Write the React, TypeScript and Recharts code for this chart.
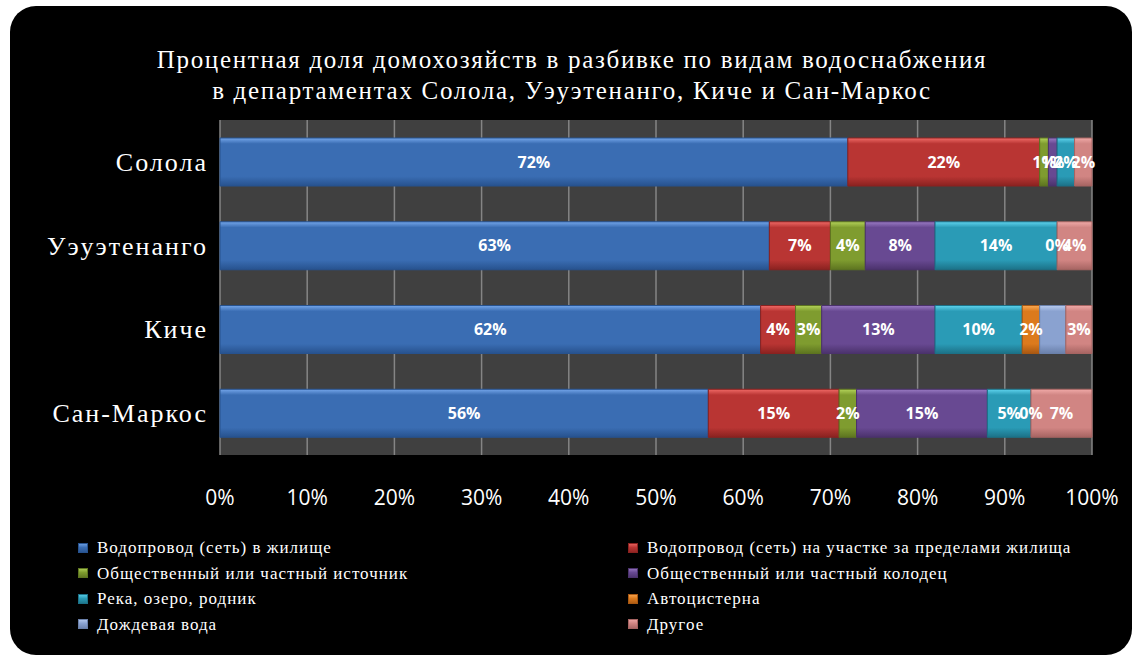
import { Bar, BarChart, CartesianGrid, LabelList, XAxis, YAxis } from "recharts";

const categories = ["Солола", "Уэуэтенанго", "Киче", "Сан-Маркос"];
const pipedInHome = [72, 63, 62, 56];
const pipedOnPlot = [22, 7, 4, 15];
const publicSource = [1, 4, 3, 2];
const publicWell = [1, 8, 13, 15];
const riverLake = [2, 14, 10, 5];
const tankTruck = [null, 0, 2, 0];
const rainWater = [null, null, 3, null];
const otherSource = [2, 4, 3, 7];
const xTicks = [0, 10, 20, 30, 40, 50, 60, 70, 80, 90, 100];

const seriesNames = [
  "Водопровод (сеть) в жилище",
  "Водопровод (сеть) на участке за пределами жилища",
  "Общественный или частный источник",
  "Общественный или частный колодец",
  "Река, озеро, родник",
  "Автоцистерна",
  "Дождевая вода",
  "Другое",
];

// key, light, main, dark
const palette = [
  ["home", "#74a6ea", "#3a6db3", "#27528e"],
  ["plot", "#f06a66", "#b93533", "#8a2220"],
  ["source", "#b4d35a", "#7f9c2f", "#5d7420"],
  ["well", "#9a7bc4", "#684992", "#4b326c"],
  ["river", "#5fd4ee", "#2a9bb6", "#1c7187"],
  ["truck", "#fbab55", "#dc7a1d", "#a85812"],
  ["rain", "#b9ccef", "#8aa2d0", "#6a80aa"],
  ["other", "#f0aaa8", "#d18583", "#a66462"],
];

const seriesValues = [pipedInHome, pipedOnPlot, publicSource, publicWell, riverLake, tankTruck, rainWater, otherSource];

const rows = categories.map((name, i) => {
  const row: Record<string, any> = { name };
  palette.forEach(([key], s) => {
    row[key] = seriesValues[s][i];
  });
  return row;
});

const SERIF = "'Liberation Serif', 'DejaVu Serif', serif";
const SANS = "'Open Sans', 'Noto Sans', sans-serif";

const pct = (v: any) => (v === null || v === undefined ? "" : `${v}%`);

const labelStyle = { fill: "#ffffff", fontSize: 16, fontWeight: 700, fontFamily: SANS };

function CategoryTick({ x, y, payload }: any) {
  return (
    <text x={x} y={y} dy="0.35em" textAnchor="end" fill="#ffffff" fontFamily={SERIF} fontSize={26} letterSpacing={2}>
      {payload.value}
    </text>
  );
}

// label for the last segment; zero-width truck segments get their "0%" at the left edge
function OtherLabel({ x, y, width, height, value, index }: any) {
  const cy = y + height / 2;
  const truck = tankTruck[index];
  return (
    <g>
      {truck === 0 && (
        <text x={x} y={cy} dy="0.35em" textAnchor="middle" {...labelStyle}>
          {pct(truck)}
        </text>
      )}
      <text x={x + width / 2} y={cy} dy="0.35em" textAnchor="middle" {...labelStyle}>
        {pct(value)}
      </text>
    </g>
  );
}

function Swatch({ idx }: { idx: number }) {
  const [, light, main, dark] = palette[idx];
  return (
    <span
      style={{
        display: "inline-block",
        width: 10,
        height: 10,
        marginRight: 9,
        background: `linear-gradient(${light}, ${main} 45%, ${dark})`,
        boxShadow: `inset 0 0 0 1px ${dark}`,
      }}
    />
  );
}

export default function App() {
  return (
    <div style={{ position: "fixed", left: 0, top: 0, width: 1137, height: 659, background: "#ffffff" }}>
      <div
        style={{
          position: "absolute",
          left: 10,
          top: 6,
          width: 1122,
          height: 649,
          background: "#000000",
          borderRadius: 26,
        }}
      />
      <div
        style={{
          position: "absolute",
          left: 0,
          top: 44,
          width: 1144,
          textAlign: "center",
          color: "#ffffff",
          fontFamily: SERIF,
          fontSize: 25,
          lineHeight: "31px",
          letterSpacing: 1.7,
        }}
      >
        Процентная доля домохозяйств в разбивке по видам водоснабжения
        <br />
        в департаментах Солола, Уэуэтенанго, Киче и Сан-Маркос
      </div>
      <div style={{ position: "absolute", left: 0, top: 0 }}>
        <BarChart
          width={1137}
          height={659}
          data={rows}
          layout="vertical"
          margin={{ top: 120, right: 45, bottom: 144, left: 8 }}
          barSize={48}
        >
          <defs>
            {palette.map(([key, light, main, dark]) => (
              <linearGradient key={key} id={`g-${key}`} x1="0" y1="0" x2="0" y2="1">
                <stop offset="0%" stopColor={light} />
                <stop offset="12%" stopColor={main} />
                <stop offset="80%" stopColor={main} />
                <stop offset="100%" stopColor={dark} />
              </linearGradient>
            ))}
          </defs>
          <CartesianGrid horizontal={false} stroke="#858585" strokeWidth={1.5} fill="#404040" fillOpacity={1} />
          <XAxis
            type="number"
            domain={[0, 100]}
            ticks={xTicks}
            tickFormatter={(v) => `${v}%`}
            axisLine={false}
            tickLine={false}
            tickMargin={29}
            height={60}
            tick={{ fill: "#ffffff", fontSize: 21, fontFamily: SANS }}
          />
          <YAxis
            type="category"
            dataKey="name"
            width={212}
            axisLine={false}
            tickLine={false}
            tickMargin={6}
            tick={<CategoryTick />}
          />
          {palette.map(([key, , , dark], s) => (
            <Bar
              key={key}
              dataKey={key}
              name={seriesNames[s]}
              stackId="a"
              fill={`url(#g-${key})`}
              stroke={dark}
              strokeWidth={1}
              isAnimationActive={false}
            >
              {key === "other" ? (
                <LabelList dataKey={key} content={<OtherLabel />} />
              ) : key !== "rain" ? (
                <LabelList dataKey={key} position="center" formatter={pct} {...labelStyle} />
              ) : null}
            </Bar>
          ))}
        </BarChart>
      </div>
      <div
        style={{
          position: "absolute",
          left: 78,
          top: 537,
          display: "grid",
          gridTemplateColumns: "550px 480px",
          rowGap: 4,
          color: "#ffffff",
          fontFamily: SERIF,
          fontSize: 17,
          lineHeight: "21.5px",
          letterSpacing: 1,
        }}
      >
        {seriesNames.map((n, i) => (
          <div key={n} style={{ display: "flex", alignItems: "center", whiteSpace: "nowrap" }}>
            <Swatch idx={i} />
            {n}
          </div>
        ))}
      </div>
    </div>
  );
}
